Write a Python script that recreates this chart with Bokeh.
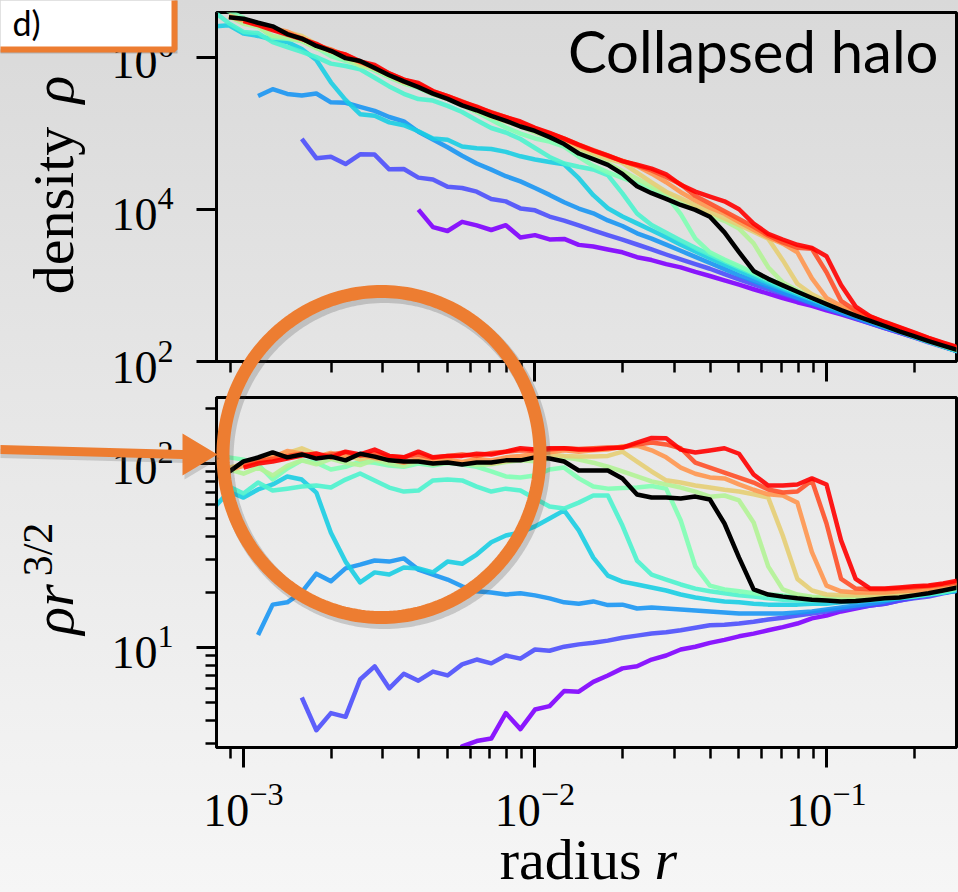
import numpy as np
from math import pi
from bokeh.plotting import figure
from bokeh.models import Range1d, FixedTicker, Label, PolyAnnotation
from bokeh.layouts import column
from bokeh.embed import file_html
from bokeh.resources import INLINE

# ---------------- data: radius grid and rho * r^(3/2) profiles ----------------
radius = [7.943e-4, 8.913e-4, 1.000e-3, 1.122e-3, 1.259e-3, 1.413e-3, 1.585e-3, 1.778e-3,
          1.995e-3, 2.239e-3, 2.512e-3, 2.818e-3, 3.162e-3, 3.548e-3, 3.981e-3, 4.467e-3,
          5.012e-3, 5.623e-3, 6.310e-3, 7.079e-3, 7.943e-3, 8.913e-3, 1.000e-2, 1.122e-2,
          1.259e-2, 1.413e-2, 1.585e-2, 1.778e-2, 1.995e-2, 2.239e-2, 2.512e-2, 2.818e-2,
          3.162e-2, 3.548e-2, 3.981e-2, 4.467e-2, 5.012e-2, 5.623e-2, 6.310e-2, 7.079e-2,
          7.943e-2, 8.913e-2, 0.1000, 0.1122, 0.1259, 0.1413, 0.1585, 0.1778, 0.1995,
          0.2239, 0.2512, 0.2818]

# each profile: first index on the radius grid, then rho*r^1.5 values
purple_start = 14
purple = [2.5, 1.75, 1.85, 2.9, 3.1, 3.2, 4.4, 3.6, 4.6, 4.8, 5.8, 5.75, 6.5, 7.05, 7.7, 7.9,
          8.6, 9.05, 9.75, 10.1, 10.6, 11.0, 11.5, 11.9, 12.4, 12.9, 13.5, 14.4, 14.9, 15.7,
          16.3, 16.9, 17.3, 18.0, 18.7, 19.4, 19.9, 20.4]
indigo_start = 6
indigo = [5.35, 3.55, 4.4, 4.2, 6.7, 7.9, 6.0, 7.2, 6.6, 7.4, 7.05, 8.1, 8.6, 8.2, 9.05, 8.7,
          9.75, 9.6, 10.1, 10.4, 10.6, 10.9, 11.3, 11.6, 11.9, 12.1, 12.4, 12.8, 13.2, 13.3,
          13.5, 13.8, 14.2, 14.5, 14.9, 15.3, 15.7, 16.1, 16.5, 16.9, 17.3, 18.0, 18.5, 18.9,
          19.7, 20.4]
blue_start = 3
blue = [11.7, 17.1, 17.6, 20.0, 25.2, 22.9, 26.9, 28.2, 29.7, 29.3, 30.5, 26.5, 24.9, 23.4,
        21.5, 20.2, 19.9, 19.4, 19.7, 19.2, 18.5, 17.6, 17.3, 17.8, 17.0, 17.1, 16.3, 16.5,
        16.3, 16.1, 15.9, 15.7, 15.5, 15.3, 15.3, 15.3, 15.3, 15.5, 15.7, 16.1, 16.5, 16.9,
        17.3, 17.8, 18.5, 18.9, 19.4, 19.9, 20.4]
cyan_start = 0
cyan = [57.7, 70.5, 65.3, 72.3, 76.9, 85, 81.8, 69.5, 42, 29.3, 22.6, 25.6, 24.9, 27.2, 26.9,
        25.6, 29.3, 28.5, 32, 37.3, 40.6, 42.2, 45.5, 50.2, 55.6, 43.3, 30.8, 24.6, 22.8, 22.0,
        21.2, 20.4, 19.4, 18.7, 18.2, 17.8, 17.6, 17.3, 17.1, 17.1, 17.1, 17.3, 17.3, 17.6,
        17.8, 18.0, 18.2, 18.5, 18.9, 19.4, 19.9, 20.4]
turquoise_start = 0
turquoise = [89.3, 74.9, 68.7, 78.8, 71.3, 73, 74.9, 75.9, 74, 81.8, 88.2, 80.9, 74, 70.4, 71.3,
             80.9, 81.8, 80.9, 74.9, 70.4, 73, 71.3, 64.5, 58.4, 56.9, 61.3, 67, 67, 46, 29.7,
             24.9, 23.4, 22, 20.9, 20.2, 19.7, 19.2, 18.9, 18.5, 18.2, 18.0, 18.0, 18.0, 18.0,
             18.0, 18.2, 18.5, 18.7, 18.9, 19.4, 19.9, 20.7]
aquamarine_start = 0
aquamarine = [122, 108, 105, 98.8, 81.8, 94, 104, 101, 92.8, 96, 102.5, 101, 97.5, 96, 100, 97.5,
              101, 98.8, 96, 90.5, 85, 84, 86, 92.8, 95, 83, 75, 73, 73.6, 74, 75.4, 73, 49,
              27.6, 21.7, 20.7, 20.2, 19.7, 19.4, 19.2, 18.9, 18.7, 18.7, 18.7, 18.7, 18.7, 18.9,
              19.2, 19.4, 19.9, 20.4, 20.9]
yellowgreen_start = 1
yellowgreen = [93, 88, 95, 86, 97, 104, 99, 106, 101, 98, 105, 100, 97, 103, 99, 101, 100, 98,
               99, 102, 104, 103, 106, 108, 105, 101, 96, 90.5, 85, 80, 77, 74, 70.4, 66, 67, 63,
               47.8, 27.6, 20.7, 19.4, 18.9, 18.7, 18.7, 18.7, 18.9, 18.9, 19.2, 19.4, 19.9,
               20.4, 21.2]
amber_start = 1
amber = [95, 99, 104, 110, 114, 121, 112, 108, 111, 105, 110, 106, 102, 104, 100, 103, 101, 104,
         100, 103, 106, 110, 112, 110, 109, 109, 110, 116, 102.5, 90.5, 81, 78.8, 76, 74, 72,
         70.4, 68, 65.3, 40.6, 23.6, 20.4, 19.4, 19.2, 19.2, 19.2, 19.4, 19.7, 19.9, 20.4, 20.9,
         21.9]
orange_start = 1
orange = [92, 97, 103, 108, 117, 113, 109, 114, 108, 112, 107, 105, 101, 106, 103, 105, 102, 106,
          104, 108, 110, 113, 115, 118, 116, 118, 119, 124, 125, 118, 108, 95, 88, 84, 83, 77,
          72, 68, 67, 61.3, 33, 21.7, 20.2, 19.9, 19.9, 19.9, 20.2, 20.4, 20.7, 21.2, 22.3]
redorange_start = 2
redorange = [98, 103, 106, 110, 113, 108, 112, 115, 110, 113, 109, 108, 112, 107, 110, 112, 110,
             114, 116, 118, 117, 119, 121, 120, 121, 122, 122, 127, 130, 127, 121, 101, 95, 89.3,
             83.9, 78.8, 72.2, 69.6, 70.4, 80.9, 47.2, 23.6, 20.9, 20.7, 20.7, 20.9, 21.2, 21.5,
             22.0, 22.6]
red_start = 2
red = [95, 100, 102.5, 106.4, 110.5, 113.3, 108, 116, 112, 119, 110, 108, 116, 108, 110, 110,
       113, 112, 116, 121, 119, 121, 121, 119, 119, 121, 122, 130, 137.6, 137, 119, 114.8, 117.7,
       121, 113, 87.1, 75.9, 75.9, 76.9, 83, 76.9, 38.2, 23.6, 20.9, 20.9, 21.2, 21.5, 21.7,
       22.3, 23.1]
black_start = 1
black = [90, 102.6, 107.8, 114.8, 108, 112, 106.4, 109, 104, 113, 109, 104, 102.5, 102.5, 100,
         101.3, 98.8, 101.3, 101.3, 104, 104, 108, 106.4, 102.5, 91.6, 91.6, 91.6, 82.9, 67.8,
         65.3, 65.3, 64.5, 66.1, 63.7, 47.2, 30.8, 20.7, 19.4, 18.9, 18.5, 18.2, 18.0, 17.8,
         17.9, 18.2, 18.5, 18.7, 19.2, 19.7, 20.4, 21.2]

series = [
    (purple_start, purple, "#8000ff"),
    (indigo_start, indigo, "#4d4ffc"),
    (blue_start, blue, "#1996f3"),
    (cyan_start, cyan, "#1acee3"),
    (turquoise_start, turquoise, "#4df3ce"),
    (aquamarine_start, aquamarine, "#80ffb4"),
    (yellowgreen_start, yellowgreen, "#b3f396"),
    (amber_start, amber, "#e6ce74"),
    (orange_start, orange, "#ff964f"),
    (redorange_start, redorange, "#ff4f28"),
    (red_start, red, "#ff0000"),
    (black_start, black, "#000000"),
]

x_major = [1e-3, 1e-2, 1e-1]
x_minor = [9e-4, 2e-3, 3e-3, 4e-3, 5e-3, 6e-3, 7e-3, 8e-3, 9e-3,
           2e-2, 3e-2, 4e-2, 5e-2, 6e-2, 7e-2, 8e-2, 9e-2, 2e-1]
top_y_major = [1e2, 1e4, 1e6]
bot_y_major = [1e1, 1e2]
bot_y_minor = [3, 4, 5, 6, 7, 8, 9, 20, 30, 40, 50, 60, 70, 80, 90, 200]

# ---------------- layout geometry (page pixels) ----------------
PAGE_W, PAGE_H = 958, 892
TOP_H = 394
BOT_H = PAGE_H - TOP_H
FRAME_L, FRAME_R = 216, 956
TOP_FRAME = (12, 361)
BOT_FRAME = (397, 747)
LOG_X = (-3.0926, -0.554)
LOG_Y_TOP = (2.0, 6.5921)
LOG_Y_BOT = (0.4565, 2.3587)
ORANGE = "#ED7D31"
SERIF = "Liberation Serif"


def make_fig(height, top, bottom, ylog, grad):
    p = figure(width=PAGE_W, height=height, x_axis_type="log", y_axis_type="log",
               x_range=Range1d(10 ** LOG_X[0], 10 ** LOG_X[1]),
               y_range=Range1d(10 ** ylog[0], 10 ** ylog[1]),
               output_backend="svg", toolbar_location=None,
               min_border_left=FRAME_L, min_border_right=PAGE_W - FRAME_R,
               min_border_top=top, min_border_bottom=bottom,
               styles={"background": grad})
    p.title.visible = False
    p.xgrid.visible = False
    p.ygrid.visible = False
    p.outline_line_color = "black"
    p.outline_line_width = 3
    p.outline_line_alpha = 1
    p.background_fill_color = None
    p.border_fill_color = None
    for ax in p.axis:
        ax.axis_line_width = 3
        ax.axis_line_color = "black"
        ax.major_tick_line_width = 3
        ax.minor_tick_line_width = 2.5
        ax.major_tick_in = 0
        ax.major_tick_out = 20
        ax.minor_tick_in = 0
        ax.minor_tick_out = 11
        ax.major_label_text_font = SERIF
        ax.major_label_text_font_size = "46px"
        ax.major_label_text_color = "black"
    return p


p1 = make_fig(TOP_H, TOP_FRAME[0], TOP_H - TOP_FRAME[1], LOG_Y_TOP,
              "linear-gradient(180deg, #d9d9d9 0%, #e6e6e6 100%)")
p2 = make_fig(BOT_H, BOT_FRAME[0] - TOP_H, PAGE_H - BOT_FRAME[1], LOG_Y_BOT,
              "linear-gradient(180deg, #e6e6e6 0%, #f6f6f6 100%)")

p1.xaxis.ticker = FixedTicker(ticks=x_major, minor_ticks=x_minor)
p1.xaxis.major_label_text_font_size = "1px"
p1.xaxis.major_label_text_alpha = 0
p1.xaxis.major_label_standoff = 0
p1.yaxis.ticker = FixedTicker(ticks=top_y_major, minor_ticks=[])
p1.yaxis.major_label_standoff = 23

p2.xaxis.ticker = FixedTicker(ticks=x_major, minor_ticks=x_minor)
p2.xaxis.major_label_standoff = 16
p2.yaxis.ticker = FixedTicker(ticks=bot_y_major, minor_ticks=bot_y_minor)
p2.yaxis.major_label_standoff = 23

for start, vals, color in series:
    n = min(len(vals), len(radius) - start)
    r = np.array(radius[start:start + n], dtype=float)
    v = np.array([np.nan if a is None else a for a in vals[:n]], dtype=float)
    rho = v * r ** -1.5
    alpha = 1.0 if color == "#000000" else 0.9
    p1.line(r, rho, line_color=color, line_width=4.5, line_alpha=alpha, line_join="round")
    p2.line(r, v, line_color=color, line_width=4.5, line_alpha=alpha, line_join="round")

# ---------------- overlay for labels and slide annotations (page-pixel coordinates) ----------------
ov = figure(width=PAGE_W, height=PAGE_H, x_range=Range1d(0, PAGE_W), y_range=Range1d(PAGE_H, 0),
            output_backend="svg", toolbar_location=None,
            x_axis_location=None, y_axis_location=None,
            min_border=0, min_border_left=0, min_border_right=0,
            min_border_top=0, min_border_bottom=0,
            styles={"position": "absolute", "left": "0px", "top": "0px",
                    "z-index": "10", "pointer-events": "none"})
ov.title.visible = False
ov.grid.visible = False
ov.outline_line_color = None
ov.background_fill_color = None
ov.border_fill_color = None

SER_MID = 0.3375   # (ascent - descent)/2 for Liberation Serif, in em
LATO_MID = 0.387


def label(x, y, text, size, font=SERIF, style="normal", align="center", angle=0.0):
    ov.add_layout(Label(x=x, y=y, text=text, angle=angle, text_align=align,
                        text_baseline="middle", text_font=font,
                        text_font_size=f"{size}px", text_font_style=style,
                        text_color="black", level="overlay"))


# ring (with soft shadow)
th = np.linspace(0, 2 * pi, 241)
ex = 381 + 158.5 * np.cos(th)
ey = 454 + 163 * np.sin(th)
ov.add_layout(PolyAnnotation(xs=list(ex + 3), ys=list(ey + 4), fill_color=None, fill_alpha=0,
                             line_color="#404040", line_alpha=0.22, line_width=15, level="overlay"))
ov.add_layout(PolyAnnotation(xs=list(ex), ys=list(ey), fill_color=None, fill_alpha=0,
                             line_color=ORANGE, line_alpha=1, line_width=13, level="overlay"))

# arrow (with soft shadow)
arrow_x = np.array([-5, 182, 182, 217, 182, 182, -5])
arrow_y = np.array([444.5, 449.5, 433, 454, 475, 458.5, 453.5])
ov.add_layout(PolyAnnotation(xs=list(arrow_x + 2), ys=list(arrow_y + 4), fill_color="#505050",
                             fill_alpha=0.22, line_color=None, level="overlay"))
ov.add_layout(PolyAnnotation(xs=list(arrow_x), ys=list(arrow_y), fill_color=ORANGE,
                             fill_alpha=1, line_color=None, level="overlay"))

# "d)" box
box_x = np.array([-20, 174, 174, -20])
box_y = np.array([-20, -20, 49, 49])
ov.add_layout(PolyAnnotation(xs=list(box_x + 3), ys=list(box_y + 4), fill_color="#505050",
                             fill_alpha=0.3, line_color=None, level="overlay"))
ov.add_layout(PolyAnnotation(xs=list(box_x), ys=list(box_y), fill_color="white", fill_alpha=1,
                             line_color=ORANGE, line_width=6, line_alpha=1, level="overlay"))
label(40, 35 - LATO_MID * 34, "d)", 34, font="Lato", align="right")

# axis labels
label(72.5 - SER_MID * 58, 210, "density", 58, angle=pi / 2)
label(72.5 - SER_MID * 58, 89, "ρ", 58, style="italic", angle=pi / 2)
label(73 - SER_MID * 58, 609, "ρr", 58, style="italic", angle=pi / 2)
label(52 - SER_MID * 42, 549, "3/2", 42, angle=pi / 2)
label(641, 879 - SER_MID * 58, "radius", 58, align="right")
label(654, 879 - SER_MID * 58, "r", 58, style="italic", align="left")

# panel title
label(938, 72 - LATO_MID * 58, "Collapsed halo", 58, font="Lato", align="right")

layout = column(p1, p2, spacing=0)

open("out.html", "w").write(file_html([layout, ov], INLINE, title="Collapsed halo"))
